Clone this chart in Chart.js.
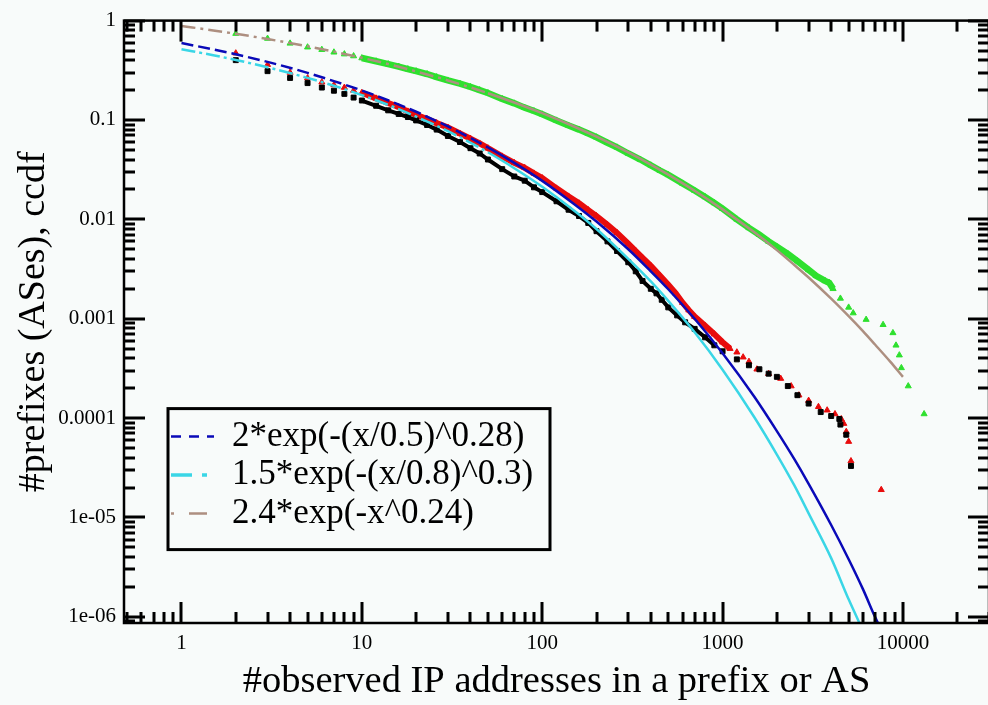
<!DOCTYPE html>
<html>
<head>
<meta charset="utf-8">
<script src="https://cdn.jsdelivr.net/npm/chart.js@4.4.0/dist/chart.umd.min.js"></script>
<style>
  html, body { margin: 0; padding: 0; background: #f8fbfa; overflow: hidden; }
  canvas { display: block; }
</style>
</head>
<body>
<canvas id="ccdf" width="994" height="705"></canvas>
<script>
// axis ticks
const xTickValues = [1, 10, 100, 1000, 10000]
const xTickLabels = ['1', '10', '100', '1000', '10000']
const yTickValues = [1e-6, 1e-5, 1e-4, 1e-3, 0.01, 0.1, 1]
const yTickLabels = ['1e-06', '1e-05', '0.0001', '0.001', '0.01', '0.1', '1']

// fitted curves
const blueX = [1, 1.5, 2, 3, 5, 7, 10, 15, 20, 30, 50, 70, 100, 150, 200, 300, 400, 500, 700, 1000, 1500, 2000, 2500, 3000, 4000, 5000, 6000, 7000, 7500]
const blueY = [0.594, 0.513, 0.458, 0.384, 0.298, 0.246, 0.198, 0.150, 0.121, 0.086, 0.053, 0.037, 0.0244, 0.0143, 0.0095, 0.0050, 0.0030, 0.00198, 0.00100, 4.5e-4, 1.64e-4, 7.4e-5, 3.86e-5, 2.18e-5, 8.4e-6, 3.8e-6, 1.9e-6, 1.0e-6, 7.7e-7]

const cyanX = [1, 1.5, 2, 3, 5, 7, 10, 15, 20, 30, 50, 70, 100, 150, 200, 300, 400, 500, 700, 1000, 1500, 2000, 2500, 3000, 4000, 5000, 6000]
const cyanY = [0.515, 0.448, 0.402, 0.339, 0.265, 0.221, 0.178, 0.135, 0.108, 0.0772, 0.0473, 0.0327, 0.0213, 0.0123, 0.0080, 0.0040, 0.00237, 0.00151, 7.3e-4, 3.07e-4, 1.02e-4, 4.3e-5, 2.1e-5, 1.1e-5, 3.9e-6, 1.5e-6, 7.3e-7]

const brownX = [1, 1.5, 2, 3, 5, 7, 10, 15, 20, 30, 50, 70, 100, 150, 200, 300, 400, 500, 700, 1000, 1500, 2000, 2500, 3000, 4000, 5000, 6000, 7000, 8500, 10000]
const brownY = [0.883, 0.797, 0.737, 0.653, 0.551, 0.487, 0.422, 0.354, 0.308, 0.250, 0.186, 0.150, 0.117, 0.086, 0.0678, 0.0471, 0.0356, 0.0282, 0.0194, 0.0126, 0.0074, 0.0049, 0.00347, 0.0026, 0.00159, 0.00106, 7.5e-4, 5.5e-4, 3.7e-4, 2.6e-4]

// measured ccdfs
const blackX = [2, 3, 4, 5, 6, 7, 8, 9, 10, 12, 14, 16, 18, 20, 23, 26, 30, 35, 40, 45, 50, 60, 70, 80, 90, 100, 120, 140, 160, 180, 200, 230, 260, 300, 330, 360, 400, 430, 460, 500, 560, 620, 700, 800, 900, 1000, 1200, 1400, 1600, 1800, 2000, 2300, 2600, 3000, 3500, 4000, 4440, 4500, 4850, 5150]
const blackY = [0.40, 0.31, 0.265, 0.235, 0.212, 0.197, 0.183, 0.168, 0.157, 0.139, 0.125, 0.115, 0.107, 0.099, 0.089, 0.080, 0.069, 0.060, 0.052, 0.046, 0.040, 0.032, 0.027, 0.0245, 0.021, 0.0188, 0.0152, 0.0125, 0.0108, 0.0092, 0.0076, 0.0060, 0.0048, 0.0037, 0.0030, 0.0024, 0.0020, 0.0018, 0.00155, 0.00130, 0.00108, 0.00092, 0.00079, 0.00065, 0.00054, 0.00047, 0.00039, 0.00034, 0.00031, 0.00028, 0.00026, 0.00021, 0.00017, 0.00014, 1.15e-4, 1.05e-4, 9.8e-5, 8.6e-5, 6.8e-5, 3.3e-5]

const redX = [2, 3, 4, 5, 6, 7, 8, 9, 10, 12, 14, 16, 18, 20, 23, 26, 30, 35, 40, 45, 50, 60, 70, 80, 90, 100, 120, 140, 160, 180, 200, 230, 260, 300, 330, 360, 400, 450, 500, 550, 600, 650, 700, 800, 900, 1000, 1100, 1200, 1300, 1400, 1550, 1800, 2100, 2400, 2650, 3000, 3400, 3800, 4200, 4550, 4700, 4850, 5000, 5150, 7580]
const redY = [0.47, 0.36, 0.30, 0.264, 0.24, 0.225, 0.212, 0.198, 0.188, 0.165, 0.148, 0.135, 0.122, 0.113, 0.102, 0.093, 0.084, 0.073, 0.065, 0.058, 0.052, 0.043, 0.037, 0.033, 0.029, 0.026, 0.0205, 0.0170, 0.0145, 0.0124, 0.0108, 0.0088, 0.0073, 0.0057, 0.0048, 0.0041, 0.0034, 0.0027, 0.0022, 0.0018, 0.00145, 0.00122, 0.00105, 0.00085, 0.00070, 0.00058, 0.00050, 0.00046, 0.00041, 0.00037, 0.00031, 0.00028, 0.00025, 0.00021, 0.00017, 0.00015, 0.00013, 0.00012, 0.00011, 9.8e-5, 8.8e-5, 7.3e-5, 5.8e-5, 3.7e-5, 1.9e-5]

const greenX = [2, 3, 4, 5, 6, 7, 8, 9, 10, 12, 14, 16, 18, 20, 23, 26, 30, 35, 40, 45, 50, 60, 70, 80, 90, 100, 120, 140, 160, 180, 200, 230, 260, 300, 350, 400, 450, 500, 600, 700, 800, 900, 1000, 1200, 1400, 1600, 1800, 2000, 2300, 2600, 3000, 3300, 3700, 3900, 4100, 4500, 5000, 5300, 6250, 7760, 8800, 9150, 9550, 9800, 10700, 13100]
const greenY = [0.74, 0.66, 0.59, 0.54, 0.51, 0.48, 0.46, 0.44, 0.42, 0.39, 0.365, 0.345, 0.325, 0.31, 0.29, 0.27, 0.25, 0.232, 0.215, 0.20, 0.187, 0.163, 0.147, 0.133, 0.123, 0.114, 0.099, 0.088, 0.080, 0.073, 0.067, 0.059, 0.053, 0.046, 0.040, 0.035, 0.031, 0.028, 0.023, 0.0195, 0.0168, 0.0146, 0.0128, 0.0100, 0.0082, 0.0070, 0.0060, 0.0053, 0.0045, 0.0038, 0.0031, 0.0027, 0.0024, 0.0023, 0.0020, 0.0016, 0.0013, 0.00114, 0.00098, 0.00087, 0.00072, 0.00054, 0.00043, 0.00032, 0.00021, 0.00011]

const legendLabels = ['2*exp(-(x/0.5)^0.28)', '1.5*exp(-(x/0.8)^0.3)', '2.4*exp(-x^0.24)']

const serif = '"Liberation Serif", serif'

const pts = (xs, ys) => xs.map((x, i) => ({ x: x, y: ys[i] }))

// sparse points: no connecting line at the very start and in the tail
const sparse = (limit) => ({
    borderColor: c => (c.p1.parsed.x <= 10 || c.p1.parsed.x > limit) ? 'rgba(0,0,0,0)' : undefined
})

const fitLine = (label, xs, ys, color, dash, solidFrom) => ({
    label: label,
    data: pts(xs, ys),
    borderColor: color,
    borderWidth: 2.5,
    borderDash: dash,
    pointRadius: 0,
    fill: false,
    cubicInterpolationMode: 'monotone',
    segment: { borderDash: c => c.p0.parsed.x >= solidFrom ? [] : undefined }
})

const dataPoints = (xs, ys, color, style, width, limit) => ({
    data: pts(xs, ys),
    borderColor: color,
    backgroundColor: color,
    borderWidth: width,
    pointStyle: style,
    pointRadius: 3.5,
    pointBorderWidth: 1,
    segment: sparse(limit),
    fill: false
})

var datasets = [
    fitLine(legendLabels[0], blueX, blueY, '#0a0ab8', [12, 5], 50),
    fitLine(legendLabels[1], cyanX, cyanY, '#3ad6e6', [14, 4, 3, 4], 50),
    fitLine(legendLabels[2], brownX, brownY, '#ad8f80', [14, 5, 3, 5], 50),
    dataPoints(blackX, blackY, '#000000', 'rect', 4, 900),
    dataPoints(redX, redY, '#e80c0c', 'triangle', 6, 1100),
    dataPoints(greenX, greenY, '#2ee02e', 'triangle', 6.5, 4200)
]

// frame with inward ticks on all four sides
const frame = {
    id: 'frame',
    afterDatasetsDraw(chart) {
        const { ctx, chartArea: a, scales } = chart
        const sx = scales.x, sy = scales.y
        const seg = (x1, y1, x2, y2) => { ctx.beginPath(); ctx.moveTo(x1, y1); ctx.lineTo(x2, y2); ctx.stroke() }
        ctx.save()
        ctx.strokeStyle = '#000'
        ctx.lineWidth = 3
        for (let e = -1; e <= 4; e++) {
            for (let m = 1; m < 10; m++) {
                const v = m * Math.pow(10, e)
                if (v < sx.min || v > sx.max) continue
                const px = Math.round(sx.getPixelForValue(v))
                const len = m === 1 ? 21 : 11
                seg(px, a.bottom, px, a.bottom - len)
                seg(px, a.top, px, a.top + len)
            }
        }
        for (let e = -7; e <= 0; e++) {
            for (let m = 1; m < 10; m++) {
                const v = m * Math.pow(10, e)
                if (v < sy.min * 0.999 || v > sy.max * 1.001) continue
                const py = Math.round(sy.getPixelForValue(v))
                const len = m === 1 ? 21 : 11
                seg(a.left, py, a.left + len, py)
                seg(a.right, py, a.right - len, py)
            }
        }
        ctx.lineWidth = 2.5
        ctx.strokeRect(a.left, a.top, a.right - a.left, a.bottom - a.top)
        ctx.restore()
    }
}

// boxed legend inside the plot, lower left
const boxLegend = {
    id: 'boxLegend',
    afterDraw(chart) {
        const { ctx, chartArea: a } = chart
        const bx = a.left + 44, by = a.top + 388, bw = 382, bh = 141
        const samples = [[10, 8], [21, 10, 5, 40], [3, 15, 18, 40]]
        ctx.save()
        ctx.fillStyle = '#f8fbfa'
        ctx.fillRect(bx, by, bw, bh)
        ctx.strokeStyle = '#000'
        ctx.lineWidth = 3
        ctx.strokeRect(bx, by, bw, bh)
        ctx.font = '35px ' + serif
        ctx.textBaseline = 'middle'
        for (let i = 0; i < 3; i++) {
            const ds = chart.data.datasets[i]
            const ly = by + 28 + i * 38.5
            ctx.strokeStyle = ds.borderColor
            ctx.lineWidth = i === 1 ? 3.5 : 2.5
            ctx.setLineDash(samples[i])
            ctx.beginPath()
            ctx.moveTo(bx + 3, ly)
            ctx.lineTo(bx + 46, ly)
            ctx.stroke()
            ctx.setLineDash([])
            ctx.fillStyle = '#000'
            ctx.fillText(ds.label, bx + 64, ly)
        }
        ctx.restore()
    }
}

var chart = new Chart(document.getElementById('ccdf'), {
    type: 'line',
    data: { datasets: datasets },
    plugins: [frame, boxLegend],
    options: {
        responsive: false,
        animation: false,
        layout: { padding: { top: 15, right: 3, left: 0, bottom: 0 } },
        plugins: {
            legend: { display: false },
            tooltip: { enabled: false }
        },
        scales: {
            x: {
                type: 'logarithmic',
                min: 0.48,
                max: 30000,
                afterBuildTicks: s => { s.ticks = xTickValues.map(v => ({ value: v })) },
                afterFit: s => { s.height = 82 },
                grid: { display: false, drawTicks: false },
                border: { display: false },
                ticks: {
                    padding: 8,
                    color: '#000',
                    autoSkip: false,
                    maxRotation: 0,
                    font: { family: serif, size: 21 },
                    callback: v => xTickLabels[xTickValues.indexOf(v)]
                },
                title: {
                    display: true,
                    text: '#observed IP addresses in a prefix or AS',
                    color: '#000',
                    font: { family: serif, size: 38.5 },
                    padding: { top: 0, bottom: 0 }
                }
            },
            y: {
                type: 'logarithmic',
                min: 8.67e-7,
                max: 1,
                afterBuildTicks: s => { s.ticks = yTickValues.map(v => ({ value: v })) },
                afterFit: s => { s.width = 124 },
                grid: { display: false, drawTicks: false },
                border: { display: false },
                ticks: {
                    padding: 8,
                    color: '#000',
                    autoSkip: false,
                    font: { family: serif, size: 21 },
                    callback: v => yTickLabels[yTickValues.indexOf(v)]
                },
                title: {
                    display: true,
                    text: '#prefixes (ASes), ccdf',
                    color: '#000',
                    font: { family: serif, size: 38 },
                    padding: { top: 11, bottom: 0 }
                }
            }
        }
    }
})
</script>
</body>
</html>
